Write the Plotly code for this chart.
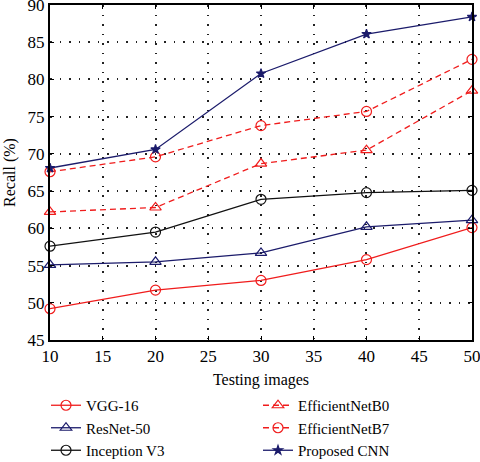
import plotly.graph_objects as go

x_vals = [10, 20, 30, 40, 50]
vgg16 = [49.2, 51.7, 53.0, 55.8, 60.1]
resnet50 = [55.1, 55.5, 56.7, 60.2, 61.1]
inception_v3 = [57.6, 59.5, 63.9, 64.8, 65.1]
effnet_b0 = [62.2, 62.8, 68.7, 70.5, 78.5]
effnet_b7 = [67.6, 69.6, 73.8, 75.7, 82.7]
proposed = [68.1, 70.6, 80.8, 86.1, 88.4]

RED = "#f01c1c"
NAVY = "#1b1b6b"
BLACK = "#111111"
FONT = "Liberation Serif"

series = [
    ("VGG-16", vgg16, RED, "solid", "circle-open"),
    ("EfficientNetB0", effnet_b0, RED, "6px,4px", "triangle-up-open"),
    ("ResNet-50", resnet50, NAVY, "solid", "triangle-up-open"),
    ("EfficientNetB7", effnet_b7, RED, "6px,4px", "circle-open"),
    ("Inception V3", inception_v3, BLACK, "solid", "circle-open"),
    ("Proposed CNN", proposed, NAVY, "solid", "star"),
]

fig = go.Figure()
for name, vals, color, dash, sym in series:
    fig.add_trace(go.Scatter(
        x=x_vals, y=vals, name=name, mode="lines+markers", cliponaxis=False,
        line=dict(color=color, width=1.3, dash=dash),
        marker=dict(symbol=sym, size=10 if sym != "star" else 7, color=color,
                    line=dict(color=color, width=1.2)),
    ))

axis_common = dict(
    showline=True, linecolor="black", linewidth=2, mirror="ticks",
    ticks="inside", ticklen=4, tickcolor="black", tickwidth=1,
    showgrid=True, gridcolor="#222222", gridwidth=1.5, griddash="1.5px,8px",
    zeroline=False, automargin=False, ticklabeloverflow="allow",
    tickfont=dict(family=FONT, size=17, color="black"),
)

fig.update_layout(
    width=480, height=462,
    margin=dict(l=50, r=8, t=5, b=122),
    paper_bgcolor="white", plot_bgcolor="white",
    font=dict(family=FONT, color="black"),
    xaxis=dict(range=[9.999, 50.001], tick0=10, dtick=5,
               title=dict(text="Testing images", font=dict(family=FONT, size=16), standoff=8), **axis_common),
    yaxis=dict(range=[44.999, 90.001], tick0=45, dtick=5,
               title=dict(text="Recall (%)", font=dict(family=FONT, size=16), standoff=8), **axis_common),
    legend=dict(orientation="h", xref="container", x=46 / 480, xanchor="left",
                yref="container", y=(462 - 389) / 462, yanchor="top",
                entrywidth=167, entrywidthmode="pixels", tracegroupgap=0,
                font=dict(family=FONT, size=15, color="black"), itemwidth=30),
)

fig.write_html("out.html", config={"displayModeBar": False},
               post_script="document.body.style.margin='0';document.body.style.padding='0';")
